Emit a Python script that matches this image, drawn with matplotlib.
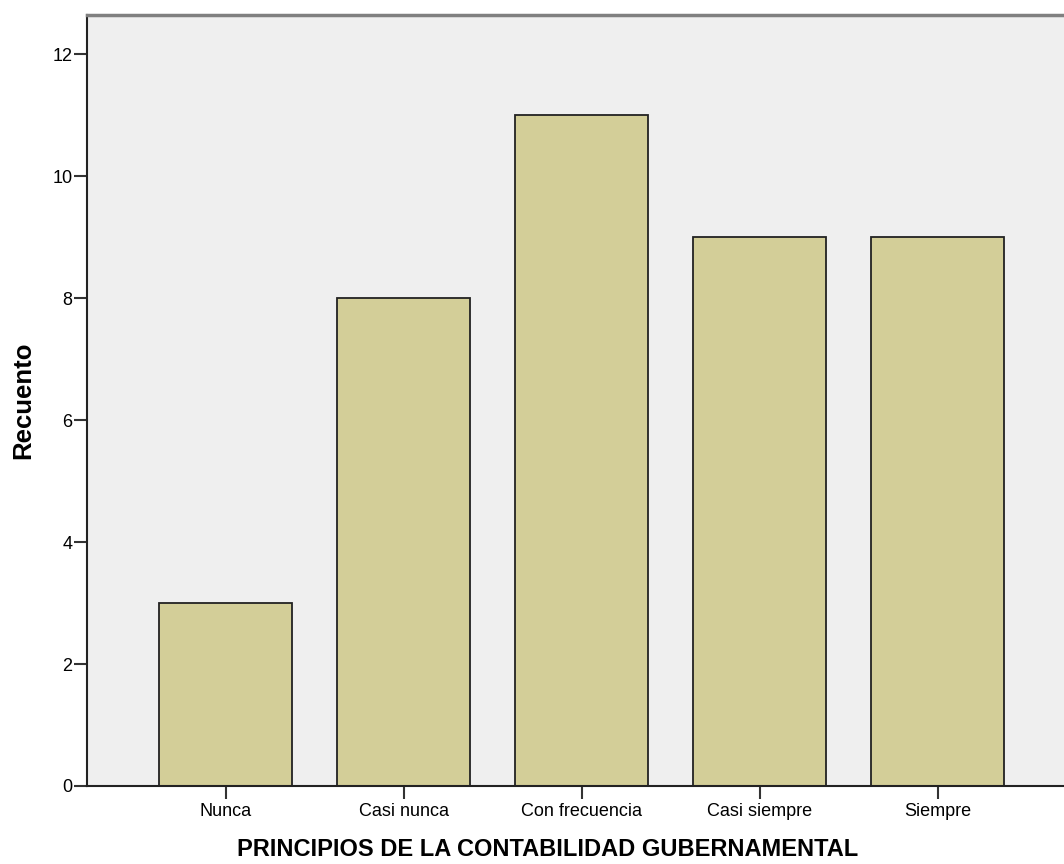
import numpy as np
import matplotlib.pyplot as plt
import matplotlib

matplotlib.rc('font', family='Liberation Sans')

categorias = ['Nunca', 'Casi nunca', 'Con frecuencia', 'Casi siempre', 'Siempre']
recuento = [3, 8, 11, 9, 9]
yticks = [0, 2, 4, 6, 8, 10, 12]

fig = plt.figure(figsize=(10.64, 8.64), dpi=100)
ax = fig.add_axes([87/1064, 78/864, 1 - 87/1064, (786-15)/864])
ax.set_facecolor('#efefef')

x = np.arange(len(categorias))
ax.bar(x, recuento, width=0.747, color='#d3ce98', edgecolor='#222222', linewidth=1.3, zorder=2)

ax.set_xlim(-0.778, 4.71)
ax.set_ylim(0, 12.64)
ax.set_yticks(yticks)
ax.set_xticks(x)
ax.set_xticklabels(categorias)

ax.spines['right'].set_visible(False)
ax.spines['top'].set_color('#808080')
ax.spines['top'].set_linewidth(2.5)
ax.spines['left'].set_color('#222222')
ax.spines['left'].set_linewidth(1.5)
ax.spines['bottom'].set_color('#222222')
ax.spines['bottom'].set_linewidth(1.5)

ax.tick_params(axis='y', length=9.5, width=1.5, color='#333333', labelsize=13, pad=1)
ax.tick_params(axis='x', length=9, width=1.5, color='#333333', labelsize=13, pad=3)

ax.set_xlabel('PRINCIPIOS DE LA CONTABILIDAD GUBERNAMENTAL', fontsize=17, fontweight='bold', va='center')
ax.set_ylabel('Recuento', fontsize=18.5, fontweight='bold', va='center')
ax.xaxis.set_label_coords((548 - 87) / 977, (786 - 850) / 771)
ax.yaxis.set_label_coords((23 - 87) / 977, 0.5)

fig.savefig('out.png', dpi=100)
